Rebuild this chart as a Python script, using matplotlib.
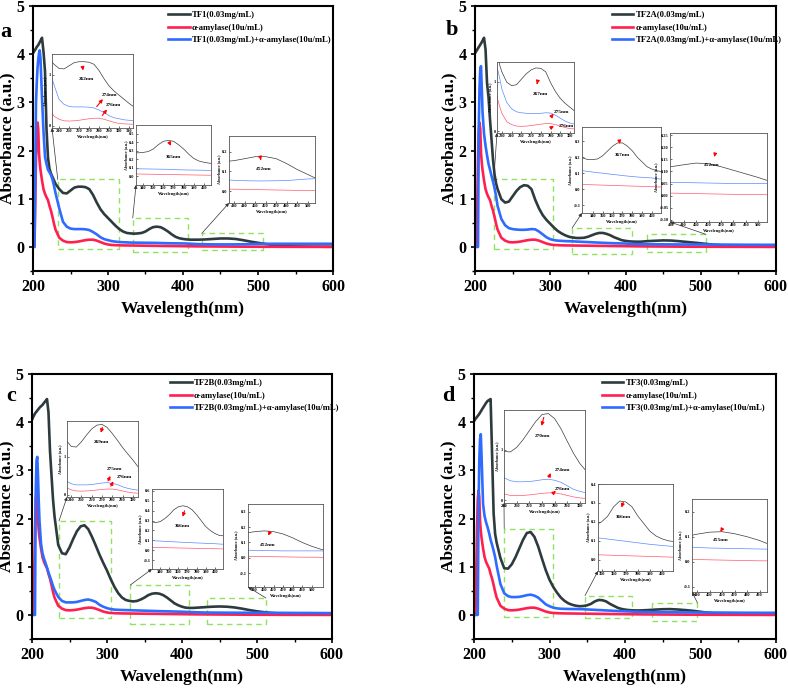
import matplotlib.pyplot as plt
from matplotlib.patches import Rectangle, ConnectionPatch
from matplotlib.ticker import MultipleLocator, FormatStrFormatter

plt.rcParams['font.family'] = ['Liberation Serif', 'DejaVu Serif']
plt.rcParams['font.weight'] = 'bold'
plt.rcParams['axes.labelweight'] = 'bold'

# wavelength grid (nm)
wl = [200, 202, 204, 205, 206, 207, 208, 209, 210, 212, 214, 216, 218, 220, 222, 224, 226, 228, 230,
      235, 240, 245, 250, 255, 260, 265, 270, 275, 280, 285, 290, 295, 300, 305, 310, 315, 320,
      325, 330, 335, 340, 345, 350, 355, 360, 365, 370, 375, 380, 385, 390, 395, 400, 405, 410, 415, 420,
      430, 440, 450, 460, 470, 480, 490, 500, 510, 520, 530, 540, 550, 560, 570, 580, 590, 600]

# alpha-amylase alone (same sample in every panel)
amylase = [0, 0, 1.8, 2.4, 2.58, 2.45, 1.95, 1.75, 1.6, 1.38, 1.2, 1.1, 1.03, 0.97, 0.85, 0.75, 0.62, 0.48, 0.36,
           0.19, 0.13, 0.10, 0.095, 0.10, 0.11, 0.125, 0.14, 0.15, 0.15, 0.13, 0.10, 0.07, 0.05, 0.04, 0.036, 0.033, 0.031,
           0.03, 0.029, 0.028, 0.027, 0.026, 0.025, 0.024, 0.023, 0.022, 0.021, 0.02, 0.019, 0.018, 0.017, 0.016, 0.015, 0.014, 0.013, 0.012, 0.011,
           0.01, 0.009, 0.008, 0.007, 0.006, 0.005, 0.004, 0.004, 0.003, 0.003, 0.002, 0.002, 0.002, 0.001, 0.001, 0.001, 0.0, 0.0]

tf1 = [4.02, 4.07, 4.12, 4.15, 4.17, 4.19, 4.22, 4.25, 4.28, 4.34, 4.05, 3.65, 2.45, 1.85, 1.62, 1.52, 1.45, 1.38, 1.31,
       1.20, 1.12, 1.11, 1.17, 1.23, 1.25, 1.25, 1.24, 1.20, 1.08, 0.92, 0.78, 0.68, 0.60, 0.52, 0.44, 0.37, 0.32,
       0.29, 0.28, 0.275, 0.28, 0.29, 0.32, 0.37, 0.41, 0.42, 0.41, 0.37, 0.32, 0.26, 0.21, 0.18, 0.165, 0.155, 0.15, 0.15, 0.15,
       0.155, 0.165, 0.175, 0.175, 0.165, 0.14, 0.11, 0.085, 0.06, 0.04, 0.025, 0.015, 0.01, 0.008, 0.006, 0.005, 0.004, 0.003]
tf1_mix = [0, 0, 3.0, 3.4, 3.7, 3.9, 4.02, 4.08, 3.9, 3.1, 2.4, 1.87, 1.72, 1.60, 1.55, 1.49, 1.40, 1.27, 1.12,
           0.80, 0.52, 0.42, 0.38, 0.37, 0.37, 0.37, 0.365, 0.35, 0.31, 0.26, 0.20, 0.16, 0.14, 0.12, 0.11, 0.10, 0.097,
           0.094, 0.09, 0.089, 0.088, 0.087, 0.086, 0.085, 0.084, 0.083, 0.08, 0.078, 0.076, 0.075, 0.074, 0.073, 0.072, 0.07, 0.066, 0.062, 0.058,
           0.055, 0.053, 0.052, 0.052, 0.053, 0.054, 0.058, 0.062, 0.064, 0.065, 0.065, 0.065, 0.065, 0.065, 0.065, 0.065, 0.065, 0.065]

tf2a = [4.02, 4.07, 4.12, 4.15, 4.17, 4.2, 4.22, 4.25, 4.28, 4.34, 4.1, 3.4, 3.1, 2.63, 2.22, 1.8, 1.5, 1.32, 1.2,
        0.99, 0.92, 0.94, 1.05, 1.16, 1.24, 1.28, 1.27, 1.2, 0.98, 0.8, 0.66, 0.56, 0.48, 0.4, 0.33, 0.28, 0.24,
        0.21, 0.195, 0.185, 0.185, 0.19, 0.21, 0.24, 0.27, 0.29, 0.29, 0.27, 0.24, 0.2, 0.17, 0.14, 0.125, 0.115, 0.11, 0.108, 0.108,
        0.12, 0.128, 0.135, 0.132, 0.12, 0.105, 0.09, 0.075, 0.058, 0.042, 0.032, 0.026, 0.022, 0.02, 0.018, 0.017, 0.016, 0.015]
tf2a_mix = [0, 0, 0, 2.5, 3.3, 3.7, 3.75, 3.3, 2.8, 2.35, 2.1, 1.9, 1.72, 1.6, 1.47, 1.35, 1.22, 1.05, 0.85,
            0.58, 0.45, 0.39, 0.37, 0.36, 0.355, 0.355, 0.36, 0.37, 0.365, 0.32, 0.26, 0.2, 0.16, 0.14, 0.13, 0.125, 0.12,
            0.118, 0.115, 0.111, 0.107, 0.103, 0.1, 0.096, 0.092, 0.089, 0.085, 0.082, 0.079, 0.076, 0.074, 0.072, 0.07, 0.066, 0.062, 0.059, 0.057,
            0.055, 0.054, 0.053, 0.052, 0.051, 0.05, 0.05, 0.05, 0.05, 0.049, 0.048, 0.047, 0.046, 0.045, 0.045, 0.044, 0.044, 0.043]

tf2b = [4.05, 4.12, 4.18, 4.2, 4.22, 4.24, 4.26, 4.28, 4.3, 4.33, 4.36, 4.4, 4.44, 4.48, 4.2, 3.4, 2.9, 2.4, 2.05,
        1.45, 1.28, 1.26, 1.4, 1.58, 1.74, 1.84, 1.86, 1.78, 1.62, 1.44, 1.25, 1.08, 0.92, 0.74, 0.58, 0.45, 0.36,
        0.31, 0.29, 0.28, 0.29, 0.32, 0.36, 0.41, 0.44, 0.45, 0.44, 0.41, 0.36, 0.3, 0.24, 0.2, 0.17, 0.15, 0.145, 0.145, 0.15,
        0.16, 0.17, 0.175, 0.17, 0.155, 0.13, 0.1, 0.075, 0.055, 0.04, 0.03, 0.025, 0.02, 0.02, 0.015, 0.015, 0.01, 0.01]
tf2b_mix = [0, 0, 0, 2.6, 3.2, 3.28, 2.9, 2.35, 1.95, 1.48, 1.28, 1.17, 1.08, 0.98, 0.88, 0.79, 0.7, 0.6, 0.52,
            0.37, 0.29, 0.26, 0.26, 0.26, 0.27, 0.29, 0.31, 0.32, 0.3, 0.27, 0.21, 0.17, 0.14, 0.12, 0.11, 0.105, 0.102,
            0.1, 0.098, 0.095, 0.093, 0.09, 0.088, 0.085, 0.083, 0.08, 0.078, 0.076, 0.074, 0.072, 0.07, 0.068, 0.066, 0.063, 0.06, 0.057, 0.054,
            0.05, 0.048, 0.047, 0.046, 0.045, 0.045, 0.045, 0.045, 0.045, 0.044, 0.043, 0.042, 0.041, 0.04, 0.04, 0.039, 0.038, 0.037]

tf3 = [4.02, 4.07, 4.11, 4.13, 4.15, 4.17, 4.2, 4.22, 4.25, 4.3, 4.35, 4.4, 4.44, 4.46, 4.48, 3.3, 2.1, 1.68, 1.5,
       1.18, 0.97, 0.96, 1.05, 1.2, 1.38, 1.56, 1.7, 1.72, 1.62, 1.42, 1.17, 0.93, 0.73, 0.58, 0.46, 0.36, 0.29,
       0.24, 0.21, 0.19, 0.18, 0.185, 0.2, 0.23, 0.28, 0.31, 0.305, 0.28, 0.23, 0.19, 0.15, 0.125, 0.11, 0.1, 0.095, 0.093, 0.093,
       0.1, 0.11, 0.118, 0.12, 0.112, 0.1, 0.085, 0.065, 0.045, 0.03, 0.02, 0.015, 0.015, 0.012, 0.01, 0.01, 0.008, 0.008]
tf3_mix = [0, 0, 0, 0, 2.2, 3.2, 3.65, 3.75, 3.3, 2.3, 2.05, 1.92, 1.82, 1.7, 1.56, 1.45, 1.33, 1.2, 1.02,
           0.64, 0.45, 0.39, 0.37, 0.37, 0.375, 0.39, 0.41, 0.42, 0.4, 0.36, 0.29, 0.22, 0.18, 0.15, 0.135, 0.128, 0.125,
           0.123, 0.122, 0.121, 0.12, 0.117, 0.113, 0.109, 0.105, 0.101, 0.097, 0.093, 0.089, 0.085, 0.081, 0.078, 0.075, 0.072, 0.069, 0.066, 0.063,
           0.06, 0.057, 0.055, 0.054, 0.053, 0.052, 0.051, 0.05, 0.05, 0.049, 0.048, 0.047, 0.046, 0.045, 0.045, 0.044, 0.044, 0.043]

BLACK, RED, BLUE = '#2e3b3e', '#ff2050', '#2f6bff'
IN_BLACK, IN_RED, IN_BLUE = '#3c3c3c', '#ff5a70', '#5a8aff'
GREEN = '#8fe35e'

W, H = 788, 690


def frac(l, t, r, b):
    # pixel box -> figure fraction
    return [l / W, 1 - b / H, (r - l) / W, (b - t) / H]


panels = [
    dict(letter='a', name='TF1', black=tf1, blue=tf1_mix, box=(33, 6, 333, 271), letter_xy=(6, 32), leg_x=0.45,
         insets=[
             dict(box=(52, 54, 133, 128), xlim=(233, 314), ylim=(-0.04, 1.4), xt=range(240, 311, 10), yt=[0, 1], fmt='%d', corner='tl',
                  notes=[('262nm', (0.43, 0.66), (0.37, 0.87), (0.39, 0.74)),
                         ('274nm', (0.71, 0.44), (0.53, 0.26), (0.65, 0.42)),
                         ('276nm', (0.76, 0.31), (0.6, 0.14), (0.7, 0.28))]),
             dict(box=(136, 125, 211, 185), xlim=(333, 407), ylim=(-0.1, 0.6), xt=range(340, 401, 10), yt=[0, 0.1, 0.2, 0.3, 0.4, 0.5], fmt='%.1f', corner='tl',
                  notes=[('365nm', (0.5, 0.47), (0.43, 0.75), (0.48, 0.61))]),
             dict(box=(229, 136, 315, 203), xlim=(425, 507), ylim=(-0.06, 0.28), xt=range(430, 501, 10), yt=[0, 0.1, 0.2], fmt='%.1f', corner='tl',
                  notes=[('452nm', (0.4, 0.5), (0.36, 0.7), (0.38, 0.6))]),
         ]),
    dict(letter='b', name='TF2A', black=tf2a, blue=tf2a_mix, box=(475, 6, 776, 271), letter_xy=(452, 30), leg_x=0.455,
         insets=[
             dict(box=(497, 62, 574, 133), xlim=(225, 304), ylim=(-0.04, 1.4), xt=range(230, 301, 10), yt=[0, 1], fmt='%d', corner='tl',
                  notes=[('267nm', (0.56, 0.55), (0.53, 0.74), (0.51, 0.65)),
                         ('275nm', (0.84, 0.3), (0.68, 0.2), (0.76, 0.3)),
                         ('276nm', (0.9, 0.1), (0.68, 0.06), (0.77, 0.12))]),
             dict(box=(582, 127, 661, 213), xlim=(329, 409), ylim=(-0.15, 0.39), xt=range(340, 401, 10), yt=[-0.1, 0, 0.1, 0.2, 0.3], fmt='%.1f', corner='tl',
                  notes=[('367nm', (0.51, 0.67), (0.47, 0.87), (0.48, 0.77))]),
             dict(box=(670, 133, 767, 222), xlim=(429, 507), ylim=(-0.11, 0.26), xt=range(430, 501, 10), yt=[-0.1, -0.05, 0, 0.05, 0.1, 0.15, 0.2, 0.25], fmt='%.2f', corner='tr',
                  notes=[('452nm', (0.43, 0.64), (0.47, 0.79), (0.45, 0.7))]),
         ]),
    dict(letter='c', name='TF2B', black=tf2b, blue=tf2b_mix, box=(32, 374, 332, 639), letter_xy=(11, 396), leg_x=0.46,
         insets=[
             dict(box=(67, 421, 138, 497), xlim=(236, 305), ylim=(-0.06, 1.95), xt=range(240, 301, 10), yt=[0, 1], fmt='%d', corner='tl',
                  notes=[('269nm', (0.48, 0.73), (0.51, 0.95), (0.465, 0.81)),
                         ('275nm', (0.67, 0.37), (0.56, 0.18), (0.63, 0.31)),
                         ('276nm', (0.81, 0.26), (0.6, 0.11), (0.67, 0.24))]),
             dict(box=(152, 489, 223, 569), xlim=(331, 409), ylim=(-0.19, 0.62), xt=range(340, 401, 10), yt=[-0.1, 0, 0.1, 0.2, 0.3, 0.4, 0.5, 0.6], fmt='%.1f', corner='tl',
                  notes=[('366nm', (0.43, 0.54), (0.47, 0.76), (0.42, 0.62))]),
             dict(box=(248, 504, 323, 587), xlim=(433, 512), ylim=(-0.19, 0.35), xt=range(440, 501, 10), yt=[-0.1, 0, 0.1, 0.2, 0.3], fmt='%.1f', corner='tr',
                  notes=[('452nm', (0.27, 0.5), (0.31, 0.69), (0.25, 0.59))]),
         ]),
    dict(letter='d', name='TF3', black=tf3, blue=tf3_mix, box=(474, 374, 776, 639), letter_xy=(448, 396), leg_x=0.423,
         insets=[
             dict(box=(504, 410, 585, 503), xlim=(240, 304), ylim=(-0.05, 1.79), xt=range(240, 301, 10), yt=[0, 1], fmt='%d', corner='tl',
                  notes=[('270nm', (0.47, 0.725), (0.5, 0.95), (0.455, 0.8)),
                         ('274nm', (0.72, 0.36), (0.54, 0.25), (0.59, 0.35)),
                         ('276nm', (0.72, 0.15), (0.6, 0.1), (0.64, 0.13))]),
             dict(box=(598, 484, 673, 571), xlim=(347, 409), ylim=(-0.06, 0.4), xt=range(350, 401, 10), yt=[0, 0.1, 0.2, 0.3, 0.4], fmt='%.1f', corner='tl',
                  notes=[('366nm', (0.34, 0.62), (0.35, 0.82), (0.3, 0.7))]),
             dict(box=(692, 499, 767, 592), xlim=(436, 496), ylim=(-0.12, 0.25), xt=range(440, 491, 10), yt=[-0.1, 0, 0.1, 0.2], fmt='%.1f', corner='tr',
                  notes=[('455nm', (0.39, 0.56), (0.41, 0.69), (0.36, 0.62))]),
         ]),
]

fig = plt.figure(figsize=(W / 100, H / 100), dpi=100)

for p in panels:
    ax = fig.add_axes(frac(*p['box']))
    ax.plot(wl, p['black'], color=BLACK, lw=1.9, label=p['name'] + '(0.03mg/mL)')
    ax.plot(wl, amylase, color=RED, lw=1.9, label='α-amylase(10u/mL)')
    ax.plot(wl, p['blue'], color=BLUE, lw=1.9, label=p['name'] + '(0.03mg/mL)+α-amylase(10u/mL)')
    ax.set_xlim(200, 600)
    ax.set_ylim(-0.5, 5)
    ax.xaxis.set_major_locator(MultipleLocator(100))
    ax.xaxis.set_minor_locator(MultipleLocator(50))
    ax.yaxis.set_major_locator(MultipleLocator(1))
    ax.yaxis.set_minor_locator(MultipleLocator(0.5))
    ax.tick_params(which='major', direction='out', length=3, width=1.2, labelsize=11.5, pad=3)
    ax.tick_params(which='minor', direction='out', length=2, width=1)
    for s in ax.spines.values():
        s.set_linewidth(1.5)
    ax.set_xlabel('Wavelength(nm)', fontsize=12.5)
    ax.set_ylabel('Absorbance (a.u.)', fontsize=12.5)
    ax.xaxis.set_label_coords(0.5, -0.115)
    ax.yaxis.set_label_coords(-0.058, 0.5)
    ax.legend(loc='upper left', bbox_to_anchor=(p['leg_x'], 0.98), frameon=False, fontsize=6.2,
              borderpad=0, borderaxespad=0, handlelength=2.5, handletextpad=0.25, labelspacing=0.5)
    lx, ly = p['letter_xy']
    fig.text(lx / W, 1 - ly / H, p['letter'], fontsize=16, fontweight='bold', ha='center', va='center')

    for ins in p['insets']:
        x0, x1 = ins['xlim']
        y0, y1 = ins['ylim']
        # dashed frame on the main axes
        ax.add_patch(Rectangle((x0, y0), x1 - x0, y1 - y0, fill=False, ec=GREEN, lw=1.0, ls=(0, (4, 3)), zorder=1))

        ia = fig.add_axes(frac(*ins['box']))
        ia.plot(wl, p['black'], color=IN_BLACK, lw=0.5)
        ia.plot(wl, amylase, color=IN_RED, lw=0.5)
        ia.plot(wl, p['blue'], color=IN_BLUE, lw=0.5)
        ia.set_xlim(x0, x1)
        ia.set_ylim(y0, y1)
        ia.set_xticks(list(ins['xt']))
        ia.set_yticks(ins['yt'])
        ia.yaxis.set_major_formatter(FormatStrFormatter(ins['fmt']))
        ia.tick_params(direction='in', length=1.2, width=0.4, labelsize=3.2, pad=1)
        for s in ia.spines.values():
            s.set_linewidth(0.6)
            s.set_color('#555555')
        ia.set_xlabel('Wavelength(nm)', fontsize=3.2, labelpad=1)
        ia.set_ylabel('Absorbance (a.u.)', fontsize=2.8, labelpad=1)

        for label, txy, tail, head in ins['notes']:
            ia.annotate('', xy=head, xytext=tail, xycoords='axes fraction',
                        arrowprops=dict(arrowstyle='-|>', color='red', lw=0.8, mutation_scale=5))
            ia.text(txy[0], txy[1], label, transform=ia.transAxes, fontsize=3.8,
                    fontweight='bold', ha='center', va='center')

        cx = x0 if ins['corner'] == 'tl' else x1
        con = ConnectionPatch(xyA=(cx, y1), coordsA=ax.transData, xyB=(0, 0), coordsB=ia.transAxes,
                              arrowstyle='-|>', lw=0.5, color='#333333', mutation_scale=5)
        fig.add_artist(con)

fig.savefig('out.png', dpi=100)
